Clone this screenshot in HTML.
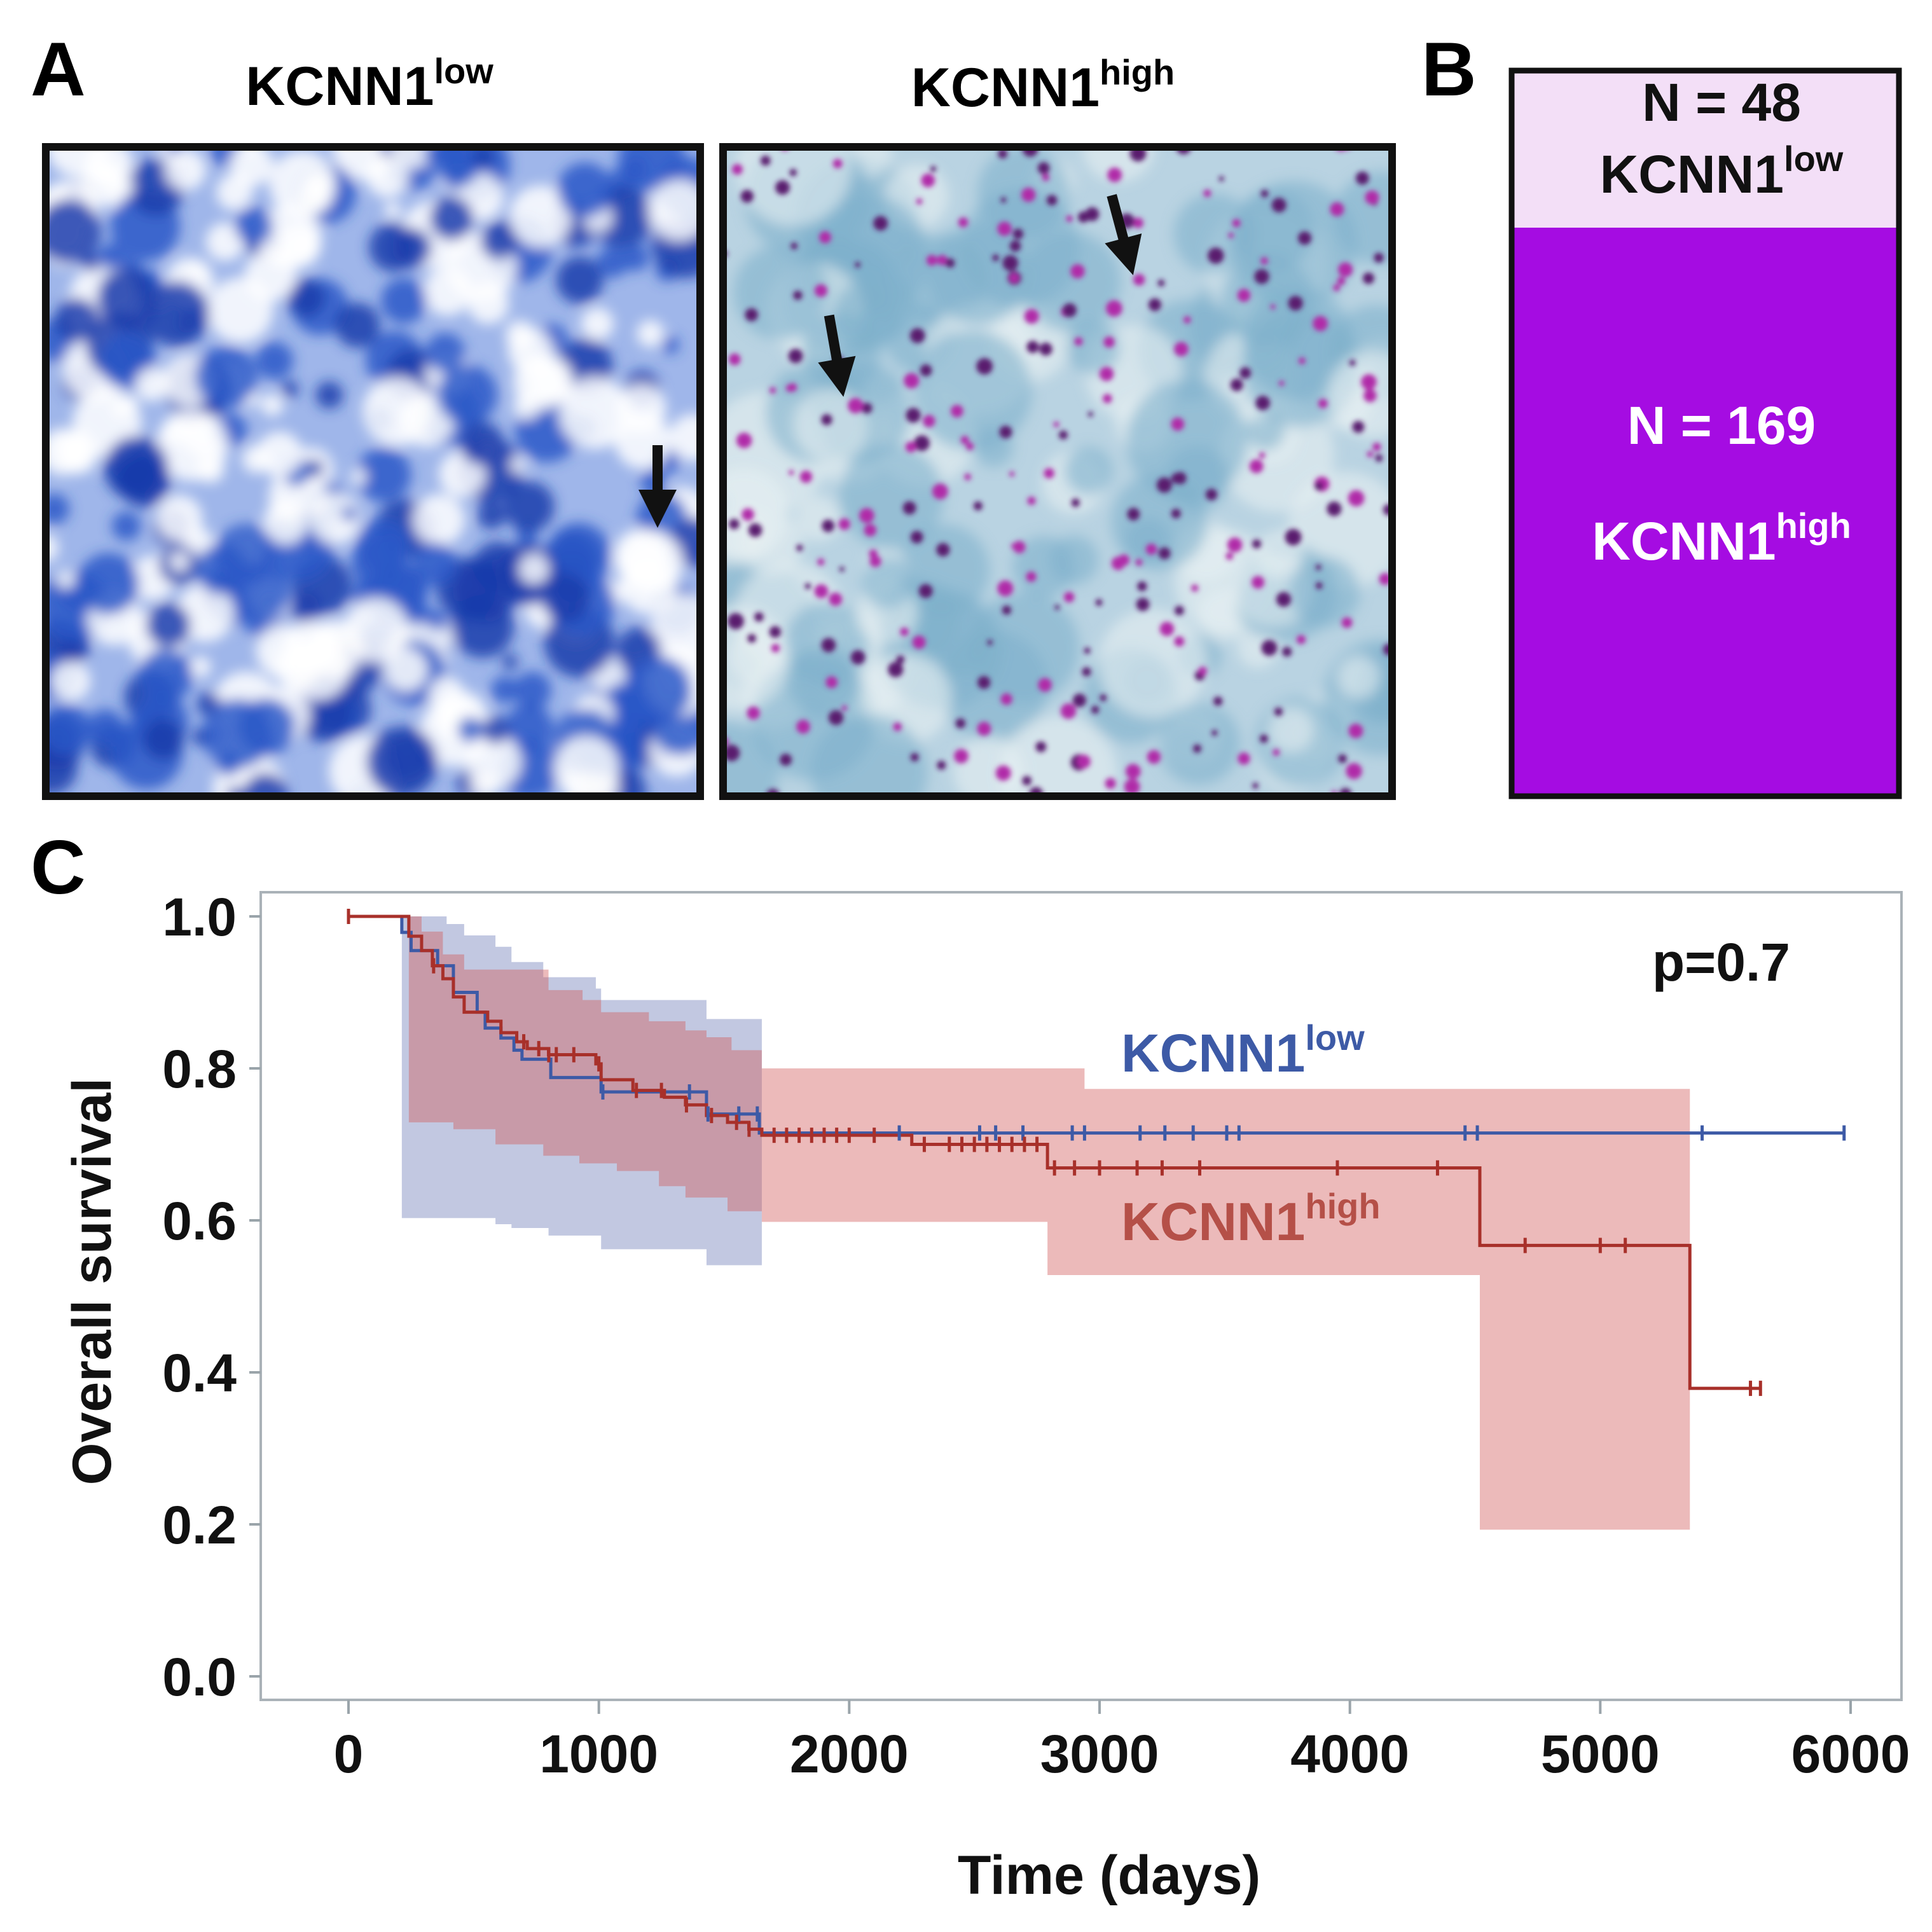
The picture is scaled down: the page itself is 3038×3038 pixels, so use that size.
<!DOCTYPE html>
<html><head><meta charset="utf-8">
<style>
html,body{margin:0;padding:0;background:#fff}
svg{display:block}
text{font-family:"Liberation Sans",Arial,sans-serif;font-weight:bold}
</style></head>
<body>
<svg id="fig" width="3038" height="3038" viewBox="0 0 3038 3038" xmlns="http://www.w3.org/2000/svg">
<defs>
<clipPath id="clipL"><rect x="68" y="227" width="1037" height="1029"/></clipPath>
<clipPath id="clipR"><rect x="1133" y="227" width="1060" height="1029"/></clipPath>
<filter id="blur1"><feGaussianBlur stdDeviation="10"/></filter>
<filter id="blur2"><feGaussianBlur stdDeviation="4"/></filter>
</defs>
<!-- Panel A -->
<text x="48" y="150" font-size="120">A</text>
<text x="581" y="165" font-size="86" text-anchor="middle">KCNN1<tspan font-size="56" dy="-34">low</tspan></text>
<text x="1640" y="167" font-size="86" text-anchor="middle">KCNN1<tspan font-size="56" dy="-34">high</tspan></text>
<g id="imgL" clip-path="url(#clipL)">
  <rect x="68" y="227" width="1037" height="1029" fill="#9fb6ea"/>
  <g id="imgLblobs" filter="url(#blur1)"></g>
</g>
<rect x="72" y="231" width="1029" height="1021" fill="none" stroke="#111" stroke-width="12"/>
<g id="imgR" clip-path="url(#clipR)">
  <rect x="1133" y="227" width="1060" height="1029" fill="#b9d3e2"/>
  <g id="imgRblobs" filter="url(#blur1)"></g>
  <g id="imgRdots" filter="url(#blur2)"></g>
</g>
<rect x="1137" y="231" width="1052" height="1021" fill="none" stroke="#111" stroke-width="12"/>
<g><rect x="1026" y="700" width="16" height="80" fill="#111"/><polygon points="1004,770 1064,770 1034,830" fill="#111"/></g>
<g transform="rotate(-10 1315 560)"><rect x="1307" y="495" width="16" height="80" fill="#111"/><polygon points="1285,565 1345,565 1315,625" fill="#111"/></g>
<g transform="rotate(-15 1765 370)"><rect x="1757" y="305" width="16" height="80" fill="#111"/><polygon points="1735,375 1795,375 1765,435" fill="#111"/></g>
<!-- Panel B -->
<text x="2235" y="150" font-size="120">B</text>
<rect x="2377" y="111" width="609" height="247" fill="#f3dff7"/>
<rect x="2377" y="358" width="609" height="894" fill="#a50ce2"/>
<rect x="2377" y="111" width="609" height="1141" fill="none" stroke="#111" stroke-width="9"/>
<text x="2707" y="190" font-size="84" text-anchor="middle" fill="#111">N = 48</text>
<text x="2707" y="303" font-size="84" text-anchor="middle" fill="#111">KCNN1<tspan font-size="56" dy="-34">low</tspan></text>
<text x="2707" y="698" font-size="84" text-anchor="middle" fill="#fff">N = 169</text>
<text x="2707" y="880" font-size="84" text-anchor="middle" fill="#fff">KCNN1<tspan font-size="56" dy="-34">high</tspan></text>
<!-- Panel C -->
<text x="48" y="1405" font-size="120">C</text>
<g id="chart"></g>
</svg>
<script>
// ===== KM chart data =====
const xTicks = [0,1000,2000,3000,4000,5000,6000];
const yTicks = [0.0,0.2,0.4,0.6,0.8,1.0];
const highTimes = [0,241,292,335,377,419,462,556,609,672,714,799,988,1009,1136,1262,1346,1430,1514,1599,1651,2250,2792,4519,5358,5644];
const highSurv  = [1.0,0.974,0.955,0.935,0.918,0.894,0.874,0.862,0.847,0.835,0.826,0.818,0.806,0.785,0.771,0.762,0.752,0.738,0.729,0.72,0.712,0.700,0.669,0.567,0.379,0.379];
const highUpperTimes = [241,292,377,462,799,935,1009,1200,1346,1430,1530,1651,2940,5358];
const highUpper      = [1.0,0.98,0.95,0.93,0.903,0.89,0.874,0.862,0.85,0.841,0.824,0.80,0.773,0.773];
const highLowerTimes = [241,419,587,778,922,1072,1240,1346,1514,1651,2792,4519,5358];
const highLower      = [0.729,0.72,0.70,0.685,0.675,0.665,0.645,0.63,0.612,0.598,0.528,0.193,0.193];
const lowTimes = [0,213,250,356,419,514,546,609,661,693,808,1009,1430,1641,5974];
const lowSurv  = [1.0,0.979,0.955,0.935,0.90,0.874,0.853,0.84,0.824,0.812,0.788,0.769,0.74,0.715,0.715];
const lowUpperTimes = [213,392,462,587,651,778,988,1009,1430,1651];
const lowUpper      = [1.0,0.99,0.975,0.96,0.94,0.92,0.905,0.89,0.865,0.865];
const lowLowerTimes = [213,587,651,799,1009,1430,1651];
const lowLower      = [0.603,0.595,0.59,0.58,0.562,0.541,0.541];
const lowCensor  = [1016,1362,1436,1559,1633,2200,2521,2585,2694,2891,2940,3162,3261,3374,3508,3557,4460,4509,5407,5974];
const highCensor = [0,340,700,760,800,830,900,1000,1150,1250,1350,1450,1550,1600,1700,1750,1800,1850,1900,1950,2000,2100,2300,2400,2450,2500,2550,2600,2650,2700,2750,2820,2900,3000,3150,3250,3400,3950,4350,4700,5000,5100,5600,5640];

const NS='http://www.w3.org/2000/svg';
const X0=548, X1=2910, Y0=2636, Y1=1441;
const sx = d => X0 + (d-0)/(6000-0)*(X1-X0);
const sy = v => Y0 - v/1.0*(Y0-Y1);
function mk(tag, attrs, parent){const e=document.createElementNS(NS,tag);for(const k in attrs)e.setAttribute(k,attrs[k]);parent.appendChild(e);return e;}
const chart=document.getElementById('chart');

const frame = mk('rect',{x:410,y:1403,width:2580,height:1270,fill:'#fff',stroke:'#aab2b8','stroke-width':4},chart);



function stepPath(ts, vs){
  let d='M'+sx(ts[0])+','+sy(vs[0]);
  for(let i=1;i<ts.length;i++){d+=' H'+sx(ts[i])+' V'+sy(vs[i]);}
  return d;
}
function bandPath(ut,uv,lt,lv,end){
  let d='M'+sx(ut[0])+','+sy(uv[0]);
  for(let i=1;i<ut.length;i++){d+=' H'+sx(ut[i])+' V'+sy(uv[i]);}
  d+=' H'+sx(end)+' V'+sy(lv[lv.length-1]);
  for(let i=lt.length-1;i>0;i--){d+=' H'+sx(lt[i])+' V'+sy(lv[i-1]);}
  d+=' H'+sx(lt[0])+' Z';
  return d;
}
const bl = mk('path',{d:bandPath(lowUpperTimes,lowUpper,lowLowerTimes,lowLower,lowUpperTimes[lowUpperTimes.length-1]),fill:'rgba(95,110,175,0.38)'},chart);


const bh = mk('path',{d:bandPath(highUpperTimes,highUpper,highLowerTimes,highLower,highUpperTimes[highUpperTimes.length-1]),fill:'rgba(210,90,90,0.42)'},chart);



const ll = mk('path',{d:stepPath(lowTimes,lowSurv),fill:'none',stroke:'#3d5aa6','stroke-width':5},chart);


const lh = mk('path',{d:stepPath(highTimes,highSurv),fill:'none',stroke:'#a8302a','stroke-width':5},chart);



function survAt(ts,vs,t){let v=vs[0];for(let i=0;i<ts.length;i++){if(ts[i]<=t)v=vs[i];}return v;}
lowCensor.forEach(t=>{
  const y=sy(survAt(lowTimes,lowSurv,t)), x=sx(t);
  const m=mk('path',{d:`M${x},${y-12} V${y+12}`,stroke:'#3d5aa6','stroke-width':5},chart);
  
  
});
highCensor.forEach(t=>{
  const y=sy(survAt(highTimes,highSurv,t)), x=sx(t);
  const m=mk('path',{d:`M${x},${y-12} V${y+12}`,stroke:'#a8302a','stroke-width':5},chart);
  
  
});

yTicks.forEach(v=>{
  const tk=mk('line',{x1:392,x2:410,y1:sy(v),y2:sy(v),stroke:'#9aa4aa','stroke-width':4},chart);
  
  
  const tl=mk('text',{x:372,y:sy(v)+30,'font-size':84,'text-anchor':'end',fill:'#111'},chart);
  tl.textContent=v.toFixed(1);
  
  
});
xTicks.forEach(v=>{
  const tk=mk('line',{x1:sx(v),x2:sx(v),y1:2673,y2:2695,stroke:'#9aa4aa','stroke-width':4},chart);
  
  
  const tl=mk('text',{x:sx(v),y:2787,'font-size':84,'text-anchor':'middle',fill:'#111'},chart);
  tl.textContent=String(v);
  
  
});
const xt=mk('text',{x:1744,y:2978,'font-size':86,'text-anchor':'middle',fill:'#111'},chart);
xt.textContent='Time (days)';


const yt=mk('text',{x:0,y:0,'font-size':86,'text-anchor':'middle',fill:'#111',transform:'translate(174,2015) rotate(-90)'},chart);
yt.textContent='Overall survival';


const pv=mk('text',{x:2815,y:1542,'font-size':84,'text-anchor':'end',fill:'#111'},chart);
pv.textContent='p=0.7';


const lgL=mk('text',{x:1763,y:1685,'font-size':84,fill:'#3d5aa6'},chart);
lgL.innerHTML='KCNN1<tspan font-size="56" dy="-34">low</tspan>';


const lgH=mk('text',{x:1763,y:1950,'font-size':84,fill:'#b55048'},chart);
lgH.innerHTML='KCNN1<tspan font-size="56" dy="-34">high</tspan>';



// ===== decorative micrograph texture (not data) =====
let seed=7;function rnd(){seed=(seed*16807)%2147483647;return seed/2147483647;}
const gL=document.getElementById('imgLblobs');
for(let i=0;i<320;i++){
  const r=rnd();
  mk('circle',{cx:68+rnd()*1037,cy:227+rnd()*1029,r:12+rnd()*45,fill:r<0.5?'#ffffff':(r<0.78?'#2a58c8':'#1a3cac'),opacity:0.85},gL);
}
const gR=document.getElementById('imgRblobs');
for(let i=0;i<120;i++){
  mk('circle',{cx:1133+rnd()*1060,cy:227+rnd()*1029,r:30+rnd()*70,fill:rnd()<0.5?'#e8f0f2':'#7fb0cc',opacity:0.6},gR);
}
const gD=document.getElementById('imgRdots');
for(let i=0;i<260;i++){
  mk('circle',{cx:1133+rnd()*1060,cy:227+rnd()*1029,r:4+rnd()*9,fill:rnd()<0.5?'#5a1a6e':'#b02aa8'},gD);
}
</script>
</body></html>
